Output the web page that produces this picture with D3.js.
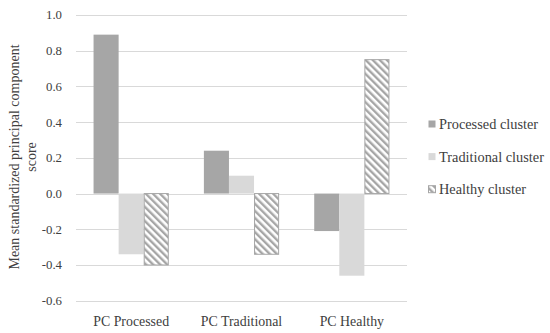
<!DOCTYPE html>
<html>
<head>
  <meta charset="utf-8">
  <script src="https://d3js.org/d3.v7.min.js"></script>
  <style>
    body{margin:0;background:#fff;}
    svg{display:block;}
  </style>
</head>
<body>
<svg></svg>
<script>
  // chart values
  var categories = ["PC Processed", "PC Traditional", "PC Healthy"];
  var clusters = ["Processed cluster", "Traditional cluster", "Healthy cluster"];
  var processed = [0.89, 0.24, -0.21];
  var traditional = [-0.34, 0.10, -0.46];
  var healthy = [-0.40, -0.34, 0.75];
  var yTicks = [-0.6, -0.4, -0.2, 0.0, 0.2, 0.4, 0.6, 0.8, 1.0];

  var FONT = "'Liberation Serif', 'Times New Roman', serif";

  // pick a font size so that a text node comes out at the wanted width
  function fitSize(node, target) {
    var w = node.getComputedTextLength();
    var fs = parseFloat(node.style.fontSize);
    return fs * target / w;
  }

  function draw() {
    var W = 550, H = 333;
    var svg = d3.select("svg").attr("width", W).attr("height", H);

    // stripe pattern for the healthy cluster
    var pat = svg.append("defs").append("pattern")
        .attr("id", "stripes")
        .attr("patternUnits", "userSpaceOnUse")
        .attr("width", 5).attr("height", 5)
        .attr("patternTransform", "rotate(-45)");
    pat.append("rect").attr("width", 5).attr("height", 5).attr("fill", "#fff");
    pat.append("rect").attr("width", 2.4).attr("height", 5).attr("fill", "#a6a6a6");

    var pLeft = 76, pRight = 407, pTop = 15, pBottom = 300.7;

    var x = d3.scaleBand().domain(categories).range([pLeft, pRight]);
    var x1 = d3.scaleBand().domain(clusters).range([0, x.bandwidth()]).paddingOuter(0.7).paddingInner(0);
    var y = d3.scaleLinear().domain([-0.6, 1.0]).range([pBottom, pTop]);

    // gridlines
    svg.append("g").selectAll("line").data(yTicks).join("line")
        .attr("x1", pLeft).attr("x2", pRight)
        .attr("y1", function(d){ return Math.round(y(d)) + 0.5; })
        .attr("y2", function(d){ return Math.round(y(d)) + 0.5; })
        .attr("stroke", "#d9d9d9").attr("stroke-width", 1);

    // y tick labels
    var ticks = svg.append("g").selectAll("text").data(yTicks).join("text")
        .attr("x", 62).attr("y", function(d){ return y(d); })
        .attr("dy", "0.35em")
        .attr("text-anchor", "end")
        .style("font-family", FONT).style("font-size", "13px")
        .attr("fill", "#404040")
        .text(function(d){ return d3.format(".1f")(d).replace("−", "-"); });
    var tfs = fitSize(ticks.filter(function(d){ return d === 0.8; }).node(), 16);
    ticks.style("font-size", tfs + "px");

    var series = [
      {name: clusters[0], values: processed, fill: "#a6a6a6", stroke: "none"},
      {name: clusters[1], values: traditional, fill: "#d9d9d9", stroke: "none"},
      {name: clusters[2], values: healthy, fill: "url(#stripes)", stroke: "#a6a6a6"}
    ];

    var groups = svg.append("g").selectAll("g").data(series).join("g");
    groups.selectAll("rect")
        .data(function(s){ return s.values.map(function(v, i){ return {s: s, v: v, c: categories[i]}; }); })
        .join("rect")
        .attr("x", function(d){ return x(d.c) + x1(d.s.name) + (d.s.stroke === "none" ? 0 : 0.5); })
        .attr("width", function(d){ return x1.bandwidth() - (d.s.stroke === "none" ? 0 : 1); })
        .attr("y", function(d){ return Math.min(y(d.v), y(0)); })
        .attr("height", function(d){ return Math.abs(y(d.v) - y(0)); })
        .attr("fill", function(d){ return d.s.fill; })
        .attr("stroke", function(d){ return d.s.stroke; })
        .attr("stroke-width", 1);

    // category labels
    var cats = svg.append("g").selectAll("text").data(categories).join("text")
        .attr("x", function(d){ return x(d) + x.bandwidth() / 2; })
        .attr("y", 326)
        .attr("text-anchor", "middle")
        .style("font-family", FONT).style("font-size", "14px")
        .attr("fill", "#404040")
        .text(function(d){ return d; });
    var cfs = fitSize(cats.node(), 76);
    cats.style("font-size", cfs + "px");

    // y axis title, two lines
    var yt = svg.append("text")
        .attr("transform", "translate(19,157) rotate(-90)")
        .attr("text-anchor", "middle")
        .style("font-family", FONT).style("font-size", "14px")
        .attr("fill", "#404040");
    var l1 = yt.append("tspan").attr("x", 0).attr("y", 0).text("Mean standardized principal component");
    yt.append("tspan").attr("x", 0).attr("y", 17).text("score");
    var yfs = fitSize(l1.node(), 233);
    yt.style("font-size", yfs + "px");

    // legend
    var leg = svg.append("g").selectAll("g").data(series).join("g")
        .attr("transform", function(d, i){ return "translate(428," + (124 + i * 32.6) + ")"; });
    leg.append("rect")
        .attr("x", 0.5).attr("y", -3.5).attr("width", 7).attr("height", 7)
        .attr("fill", function(d){ return d.fill; })
        .attr("stroke", function(d){ return d.stroke; });
    var lt = leg.append("text")
        .attr("x", 11).attr("dy", "0.35em")
        .style("font-family", FONT).style("font-size", "14px")
        .attr("fill", "#404040")
        .text(function(d){ return d.name; });
    var lfs = fitSize(lt.filter(function(d, i){ return i === 1; }).node(), 105);
    lt.style("font-size", lfs + "px");
  }

  draw();
</script>
</body>
</html>
